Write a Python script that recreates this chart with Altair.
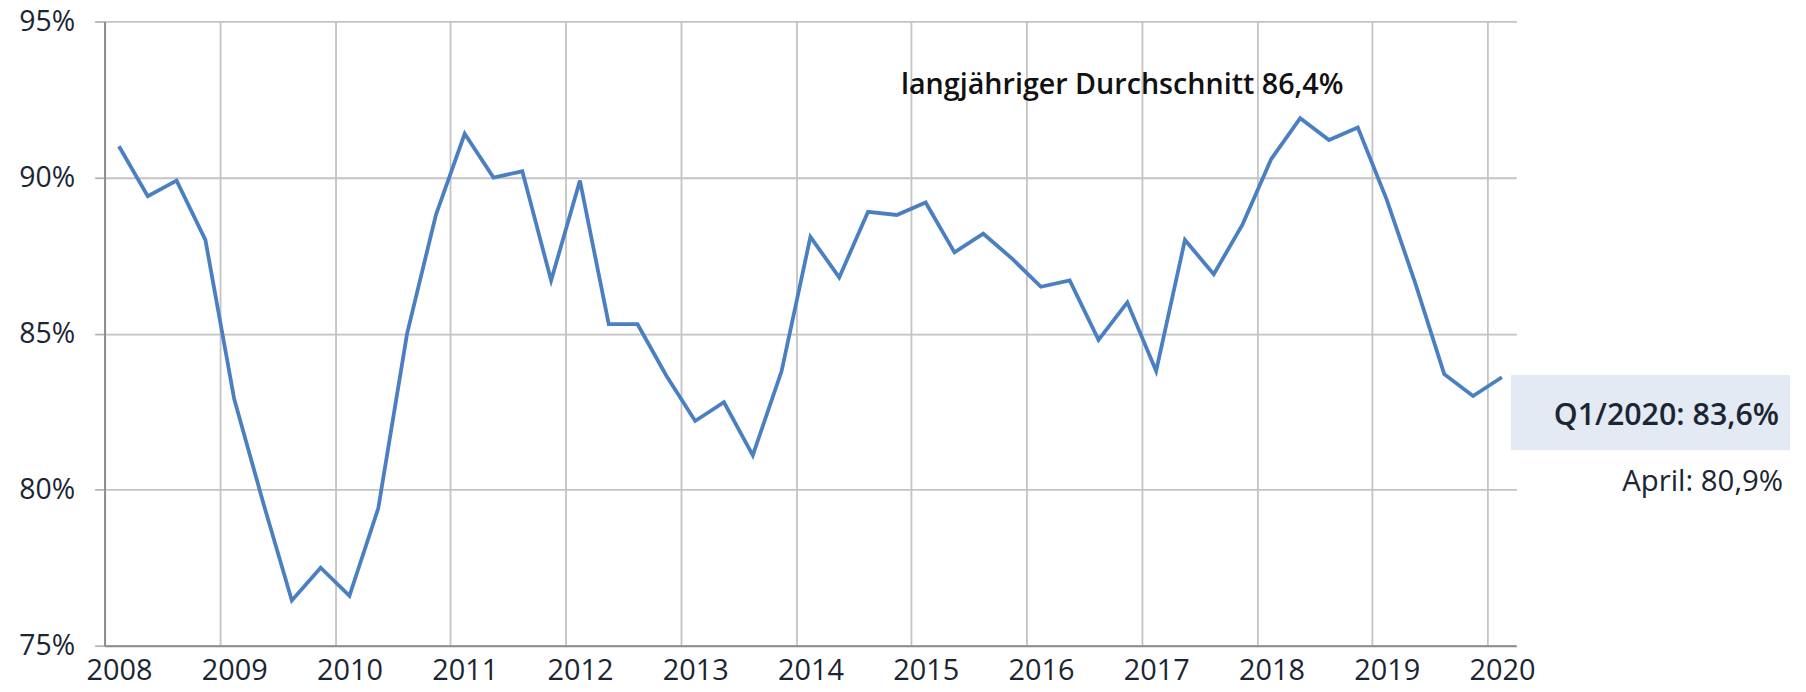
import altair as alt
import pandas as pd

# quarterly capacity utilisation (%), 2008 Q1 .. 2020 Q1
years = list(range(2008, 2021))
quarters = [1, 2, 3, 4]
values = [
    91.0, 89.4, 89.9, 88.0,   # 2008
    82.9, 79.6, 76.45, 77.5,  # 2009
    76.6, 79.4, 85.0, 88.8,   # 2010
    91.4, 90.0, 90.2, 86.7,   # 2011
    89.9, 85.3, 85.3, 83.65,  # 2012
    82.2, 82.8, 81.1, 83.8,   # 2013
    88.1, 86.8, 88.9, 88.8,   # 2014
    89.2, 87.6, 88.2, 87.4,   # 2015
    86.5, 86.7, 84.8, 86.0,   # 2016
    83.8, 88.0, 86.9, 88.5,   # 2017
    90.6, 91.9, 91.2, 91.6,   # 2018
    89.3, 86.6, 83.7, 83.0,   # 2019
    83.6,                     # 2020 Q1
]
y_ticks = [75, 80, 85, 90, 95]

avg_label = "langjähriger Durchschnitt 86,4%"
q_label = "Q1/2020: 83,6%"
april_label = "April: 80,9%"

rows = []
i = 0
for y in years:
    for q in quarters:
        if i < len(values):
            rows.append({"jahr": y, "quartal": q, "wert": values[i]})
            i += 1
df = pd.DataFrame(rows)
df["t"] = df["jahr"] + (df["quartal"] - 0.5) / 4

FONT = "Open Sans"
LABEL_COLOR = "#1b2533"
W, H = 1418, 627

x_scale = alt.Scale(domain=[2008, 2020.25], nice=False, zero=False)
y_scale = alt.Scale(domain=[75, 95], nice=False, zero=False)

line = alt.Chart(df).mark_line(color="#4a7fc2", strokeWidth=3.8).encode(
    x=alt.X("t:Q", scale=x_scale,
            axis=alt.Axis(values=years, format="d", title=None, grid=True,
                          ticks=False, labelOffset=14.5, labelPadding=11,
                          labelFlush=False, labelOverlap=False, labelBound=False,
                          labelFontSize=29, labelFont=FONT, labelColor=LABEL_COLOR)),
    y=alt.Y("wert:Q", scale=y_scale,
            axis=alt.Axis(values=y_ticks, labelExpr="datum.value + '%'", title=None,
                          grid=True, ticks=True, tickSize=10, tickColor="#b5b5b5",
                          tickWidth=1.8, labelPadding=20, labelFontSize=28.5,
                          labelFlush=False, labelFont=FONT, labelColor=LABEL_COLOR)),
)

avg_text = alt.Chart(pd.DataFrame({"t": [avg_label]})).mark_text(
    align="left", baseline="alphabetic", font=FONT, fontSize=28.8, fontWeight=600,
    color="#111111",
).encode(x=alt.value(800), y=alt.value(72.7), text="t:N")

box = alt.Chart(pd.DataFrame({"t": [q_label]})).mark_rect(
    color="#e3eaf4", clip=False
).encode(x=alt.value(1412.7), x2=alt.value(1693), y=alt.value(355), y2=alt.value(430.7))

q_text = alt.Chart(pd.DataFrame({"t": [q_label]})).mark_text(
    align="right", baseline="alphabetic", font=FONT, fontSize=30.5, fontWeight=600,
    color=LABEL_COLOR,
).encode(x=alt.value(1682), y=alt.value(405), text="t:N")

april_text = alt.Chart(pd.DataFrame({"t": [april_label]})).mark_text(
    align="right", baseline="alphabetic", font=FONT, fontSize=29.5, fontWeight=400,
    color=LABEL_COLOR,
).encode(x=alt.value(1686), y=alt.value(471.7), text="t:N")

chart = alt.layer(line, avg_text, box, q_text, april_text).properties(
    width=W, height=H,
    autosize=alt.AutoSizeParams(type="none"),
    padding={"left": 97, "top": 12, "right": 1798 - 97 - W, "bottom": 684 - 12 - H},
).configure_view(stroke=None).configure_axis(
    domainColor="#8c8c8c", domainWidth=2, gridColor="#c3c3c3", gridWidth=1.8,
)

chart.save("out.html", embed_options={"renderer": "svg", "actions": False})
